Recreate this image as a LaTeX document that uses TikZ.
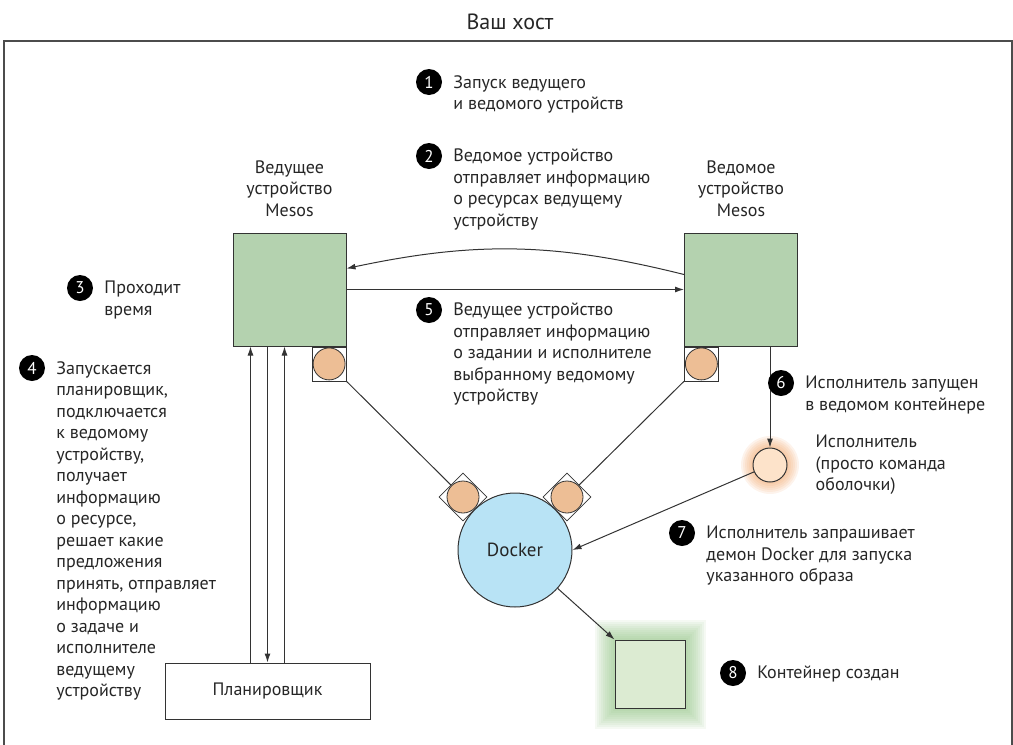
\documentclass[tikz,border=0pt]{standalone}
\usepackage{fontspec}
\setmainfont{PT Sans}
\usetikzlibrary{arrows.meta,positioning,shapes.geometric,backgrounds}
\definecolor{mgrn}{HTML}{B4D2AF}
\definecolor{orng}{HTML}{EDBE95}
\definecolor{dblue}{HTML}{B8E3F5}
\definecolor{peach}{HTML}{FDE3CA}
\definecolor{halo}{HTML}{F0A060}
\definecolor{cgrn}{HTML}{DCEBD2}
\definecolor{cglow}{HTML}{8CC07E}
\definecolor{ln}{HTML}{333333}
\tikzset{
  num/.style  ={circle,fill=black,text=white,inner sep=0pt,minimum size=26pt,
                font=\fontsize{17}{17}\selectfont},
  txt/.style  ={align=left,inner sep=0pt,font=\fontsize{18}{21.5}\selectfont,text=black!85},
  stxt/.style ={txt,anchor=north west,yshift=7pt},
  hdr/.style  ={align=center,inner sep=0pt,font=\fontsize{18}{21.5}\selectfont,text=black!85},
  mbox/.style ={draw=ln,line width=1pt,fill=mgrn,minimum width=113pt,minimum height=113pt},
  port/.style ={draw=ln,line width=.8pt,fill=white,minimum size=34pt,inner sep=0pt},
  pdia/.style ={draw=ln,line width=.8pt,fill=white,diamond,minimum size=48pt,inner sep=0pt},
  dot/.style  ={circle,draw=ln,line width=.8pt,fill=orng,minimum size=32pt,inner sep=0pt},
  a/.style    ={-{Latex[length=9pt,width=6pt]},line width=1pt,ln},
  wire/.style ={line width=1pt,ln},
}
\begin{document}
\begin{tikzpicture}[x=1pt,y=-1pt]
  \useasboundingbox (0,0) rectangle (1013,745);
  \node[font=\fontsize{22}{22}\selectfont,text=black!85] (title) at (510,22) {Ваш хост};
  \draw[gray!60!black,line width=1.2pt] (4,760) |- (1012,41) -- (1012,760);

  \node[mbox] (master) at (289.5,289.5) {};
  \node[mbox] (slave) at (741,289.5) {};
  \node[hdr,above=16pt of master] (mlbl) {Ведущее\\устройство\\Mesos};
  \node[hdr,above=16pt of slave] (slbl) {Ведомое\\устройство\\Mesos};
  \node[port,anchor=north east] (mport) at (master.south east) {};
  \node[dot] (mdot) at (mport) {};
  \node[port,anchor=north west] (sport) at (slave.south west) {};
  \node[dot] (sdot) at (sport) {};

  \node[pdia] (ldia) at (463,497) {};
  \node[dot] (ldot) at (ldia) {};
  \node[pdia] (rdia) at (567,497) {};
  \node[dot] (rdot) at (rdia) {};
  \draw[wire] (mport.south east) -- (ldia);
  \draw[wire] (sport.south west) -- (rdia);
  \node[circle,draw=ln,line width=1pt,fill=dblue,minimum size=114pt,inner sep=0pt,
        font=\fontsize{19}{19}\selectfont,text=black!85] (docker) at (515,550) {Docker};

  \node[circle,draw=ln,line width=1pt,fill=peach,minimum size=34pt,inner sep=0pt] (exe) at (770,465) {};
  \node[txt,right=28pt of exe] (exetxt) {Исполнитель\\(просто команда\\оболочки)};
  \node[draw=ln,line width=1pt,fill=cgrn,minimum width=70pt,minimum height=68pt] (cont) at (650,674) {};
  \node[txt,draw=ln,line width=1pt,minimum width=205pt,minimum height=56pt] (plan) at (267.5,691) {Планировщик};

  \begin{scope}[on background layer]
    \foreach \r in {19,21,...,29} \fill[halo,opacity=.12] (exe) circle (\r pt);
    \foreach \m in {2,4,...,20}
      \fill[cglow,opacity=.09] ([shift={(-\m pt,\m pt)}]cont.north west) rectangle ([shift={(\m pt,-\m pt)}]cont.south east);
  \end{scope}

  \draw[a] ([yshift=15pt]slave.west) to[bend right=13] ([yshift=21pt]master.east);
  \draw[a] (master.east) -- (slave.west);
  \coordinate (pl) at ([xshift=-17pt]plan.north);
  \coordinate (pr) at ([xshift=17pt]plan.north);
  \draw[a] (pl) -- (pl |- master.south);
  \draw[a] (plan.north |- master.south) -- (plan.north);
  \draw[a] (pr) -- (pr |- master.south);
  \draw[a] (slave.south -| exe) -- (exe);
  \draw[a] (exe) -- (docker.east);
  \draw[a] (docker) -- (cont.north west);

  \node[num] (n1) at (429,82) {1};
  \node[stxt,right=11pt of n1.east,anchor=north west] (t1) {Запуск ведущего\\и ведомого устройств};
  \node[num] (n2) at (429,156) {2};
  \node[stxt,right=11pt of n2.east,anchor=north west] (t2)
       {Ведомое устройство\\отправляет информацию\\о ресурсах ведущему\\устройству};
  \node[num] (n3) at (80,288) {3};
  \node[stxt,right=11pt of n3.east,anchor=north west] (t3) {Проходит\\время};
  \node[num] (n4) at (32,368) {4};
  \node[stxt,right=11pt of n4.east,anchor=north west] (t4)
       {Запускается\\планировщик,\\подключается\\к ведомому\\устройству,\\получает\\информацию\\о ресурсе,\\решает какие\\предложения\\принять, отправляет\\информацию\\о задаче и\\исполнителе\\ведущему\\устройству};
  \node[num] (n5) at (429,310) {5};
  \node[stxt,right=11pt of n5.east,anchor=north west] (t5)
       {Ведущее устройство\\отправляет информацию\\о задании и исполнителе\\выбранному ведомому\\устройству};
  \node[num] (n6) at (781,383) {6};
  \node[stxt,right=11pt of n6.east,anchor=north west] (t6) {Исполнитель запущен\\в ведомом контейнере};
  \node[num] (n7) at (682,533) {7};
  \node[stxt,right=11pt of n7.east,anchor=north west] (t7)
       {Исполнитель запрашивает\\демон Docker для запуска\\указанного образа};
  \node[num] (n8) at (733,673) {8};
  \node[stxt,right=11pt of n8.east,anchor=north west] (t8) {Контейнер создан};
\end{tikzpicture}
\end{document}
